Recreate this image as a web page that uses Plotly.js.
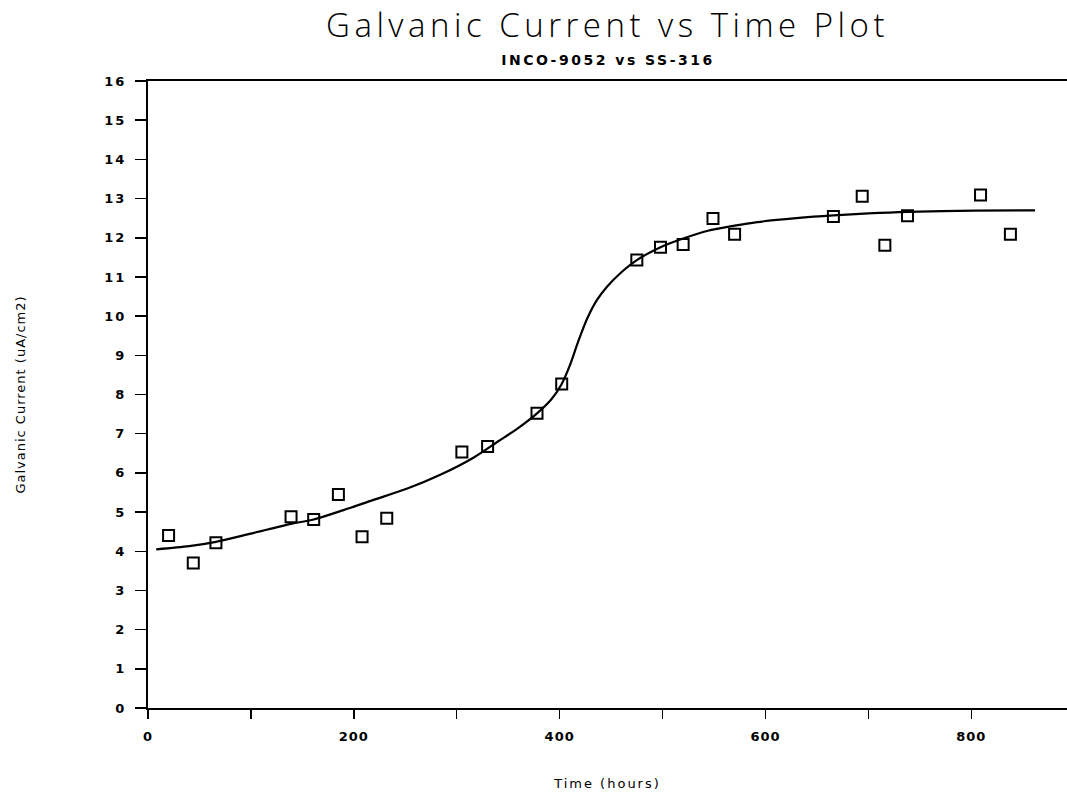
<!DOCTYPE html>
<html>
<head>
<meta charset="utf-8">
<script src="https://cdn.plot.ly/plotly-3.0.1.min.js"></script>
<style>
html,body{margin:0;padding:0;background:#fff;}
#chart{width:1067px;height:798px;}
#chart .gtitle{letter-spacing:4.5px;}
#chart .annotation-text{letter-spacing:2.5px;}
#chart .xtitle{letter-spacing:2px;}
#chart .ytitle{letter-spacing:1px;}
#chart .ytick text{letter-spacing:2px;}
#chart .xtick text{letter-spacing:1px;}
</style>
</head>
<body>
<div id="chart"></div>
<script>
// Measured data points (time in hours, current in uA/cm2)
var pointTime = [20, 44, 66, 139, 161, 185, 208, 232, 305, 330, 378, 402, 475, 498, 520, 549, 570, 666, 694, 716, 738, 809, 838];
var pointCurrent = [4.40, 3.70, 4.22, 4.88, 4.81, 5.45, 4.37, 4.84, 6.53, 6.67, 7.52, 8.27, 11.43, 11.76, 11.83, 12.49, 12.09, 12.54, 13.06, 11.81, 12.56, 13.09, 12.09];

// Fitted curve
var fitTime = [8, 40, 66, 100, 139, 161, 190, 219, 252, 284, 317, 340, 360, 378, 392, 402, 410, 418, 427, 436, 446, 460, 475, 498, 520, 544, 570, 592, 630, 666, 700, 738, 803, 862];
var fitCurrent = [4.05, 4.13, 4.24, 4.45, 4.70, 4.81, 5.05, 5.31, 5.60, 5.95, 6.40, 6.80, 7.15, 7.52, 7.88, 8.27, 8.75, 9.35, 9.95, 10.40, 10.75, 11.12, 11.43, 11.76, 11.98, 12.18, 12.31, 12.40, 12.50, 12.57, 12.62, 12.66, 12.69, 12.70];

var xTickVals = [0, 100, 200, 300, 400, 500, 600, 700, 800];
var xTickText = ['0', '', '200', '', '400', '', '600', '', '800'];
var yTickVals = [0,1,2,3,4,5,6,7,8,9,10,11,12,13,14,15,16];
var yTickText = ['0','1','2','3','4','5','6','7','8','9','10','11','12','13','14','15','16'];

var tickFont = {family: 'DejaVu Sans, sans-serif', size: 13, color: '#000', weight: 'bold'};

var traces = [
  {
    x: fitTime, y: fitCurrent, mode: 'lines', type: 'scatter',
    line: {color: '#000', width: 2.2, shape: 'spline', smoothing: 0.8},
    hoverinfo: 'skip', showlegend: false
  },
  {
    x: pointTime, y: pointCurrent, mode: 'markers', type: 'scatter',
    marker: {symbol: 'square-open', size: 11, color: '#000', line: {width: 2, color: '#000'}},
    showlegend: false
  }
];

var layout = {
  width: 1067, height: 798,
  paper_bgcolor: '#fff', plot_bgcolor: '#fff',
  margin: {l: 148, r: 0, t: 81, b: 90},
  showlegend: false,
  title: {
    text: 'Galvanic Current vs Time Plot',
    font: {family: 'Open Sans, sans-serif', size: 33, color: '#000', weight: 300},
    x: 0.5, xref: 'paper', xanchor: 'center',
    y: 0.968, yref: 'container', yanchor: 'middle'
  },
  annotations: [{
    text: 'INCO-9052 vs SS-316',
    xref: 'paper', yref: 'paper', x: 0.5, y: 1, xanchor: 'center', yanchor: 'middle',
    yshift: 21, showarrow: false,
    font: {family: 'DejaVu Sans, sans-serif', size: 14, color: '#000', weight: 'bold'}
  }],
  xaxis: {
    range: [0, 893], showgrid: false, zeroline: false,
    showline: true, linecolor: '#000', linewidth: 2, mirror: true,
    ticks: 'outside', ticklen: 9, tickwidth: 1.5, tickcolor: '#000',
    tickmode: 'array', tickvals: xTickVals, ticktext: xTickText,
    tickfont: tickFont, ticklabelstandoff: 6,
    title: {text: 'Time (hours)', font: {family: 'DejaVu Sans, sans-serif', size: 13, color: '#000'}, standoff: 36}
  },
  yaxis: {
    range: [0, 16], showgrid: false, zeroline: false,
    showline: true, linecolor: '#000', linewidth: 2,
    ticks: 'outside', ticklen: 11, tickwidth: 1.5, tickcolor: '#000',
    tickmode: 'array', tickvals: yTickVals, ticktext: yTickText,
    tickfont: tickFont, ticklabelstandoff: 6,
    title: {text: 'Galvanic Current (uA/cm2)', font: {family: 'DejaVu Sans, sans-serif', size: 13, color: '#000'}, standoff: 80}
  }
};

Plotly.newPlot('chart', traces, layout, {displayModeBar: false, staticPlot: true});
</script>
</body>
</html>
